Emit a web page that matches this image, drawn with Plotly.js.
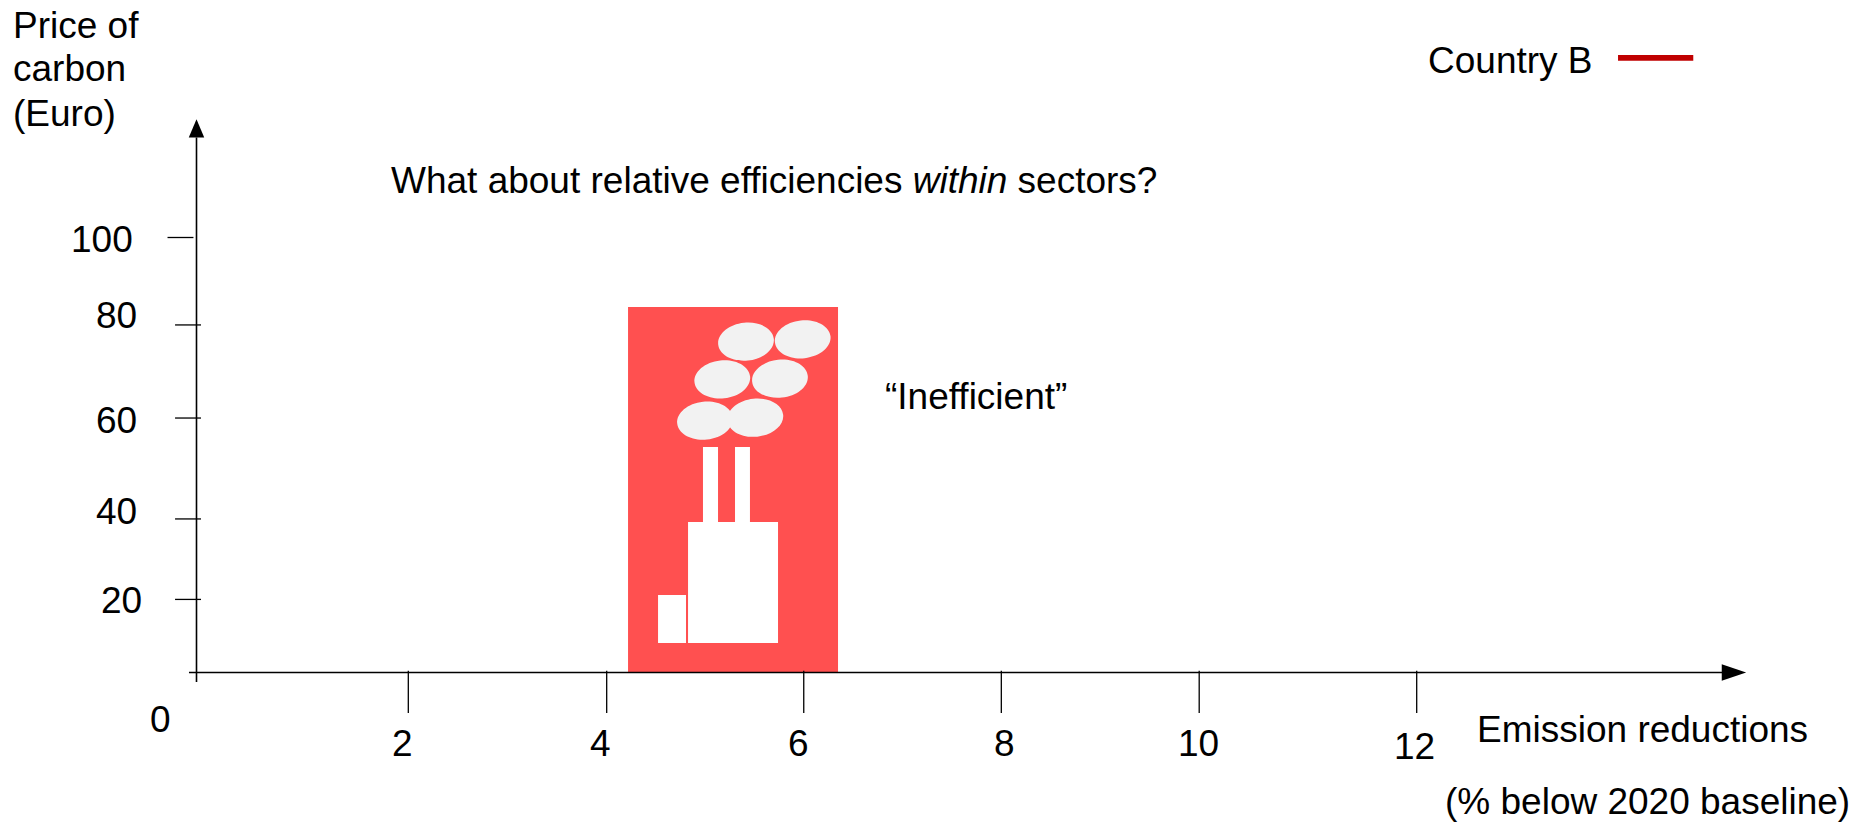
<!DOCTYPE html>
<html>
<head>
<meta charset="utf-8">
<script src="https://cdn.plot.ly/plotly-3.0.1.min.js"></script>
<style>html,body{margin:0;padding:0;background:#fff}#chart{width:1858px;height:822px}</style>
</head>
<body>
<div id="chart"></div>
<script>
// Scales (data units)
const xRange = [-1.9325, 16.3400];
const yRange = [-34.37, 154.60];

// Hand-drawn axis ticks
const xTickLabels = ["2","4","6","8","10","12"];
const xTickValues = [2.083,4.034,5.972,7.915,9.861,12];
const xTickLabelX = [2.03,3.975,5.92,7.945,9.859,11.98];
const xTickLabelY = [-16.4,-16.4,-16.4,-16.4,-16.4,-17.1];
const xTickEnd = -9.3;

const yTickLabels = ["100","80","60","40","20"];
const yTickValues = [100,79.9,58.5,35.3,16.8];
const yTickStart = [-0.285,-0.211,-0.211,-0.211,-0.211];
const yTickEnd = [-0.03,0.044,0.044,0.044,0.044];
const yTickLabelX = [-0.929,-0.782,-0.782,-0.782,-0.742];
const yTickLabelY = [99.5,82.0,57.9,37,16.5];

// Highlighted block
const blockX = [4.244,6.309];
const blockTop = 84.0;

// Factory pictogram: [x0,x1,y0,y1]
const chimney1 = [4.981,5.129,34.6,51.84];
const chimney2 = [5.296,5.443,34.6,51.84];
const factoryMain = [4.834,5.719,6.78,34.6];
const factorySide = [4.539,4.814,6.78,17.82];
const smokeX = [5.404,5.962,5.171,5.738,5.001,5.496];
const smokeY = [76.05,76.6,67.4,67.54,57.89,58.57];
const smokeRx = 0.275, smokeRy = 4.37;

// Legend line
const legendLineX = [13.98,14.72];
const legendLineY = 141.3;

// Axis arrows
const yAxisTop = 123, yAxisBottom = -2.2;
const xAxisLeft = -0.074, xAxisRight = 15.1;
const arrowUpX = [-0.076,0.076,0];
const arrowUpY = [123,123,127.2];
const arrowRightX = [15.0,15.0,15.24];
const arrowRightY = [1.9,-1.9,0];

const FONT = "Liberation Sans, Arial, sans-serif";
const FS = 37;

function segs(list){
  const x=[],y=[];
  list.forEach(s=>{x.push(s[0],s[2],null);y.push(s[1],s[3],null);});
  return {x,y};
}
const axisSegs = segs([[0,yAxisBottom,0,yAxisTop],[xAxisLeft,0,xAxisRight,0]]);
const tickSegs = segs(
  xTickValues.map(v=>[v,0.4,v,xTickEnd]).concat(
  yTickValues.map((v,i)=>[yTickStart[i],v,yTickEnd[i],v]))
);

const traces = [
  {type:"scatter",mode:"lines",x:axisSegs.x,y:axisSegs.y,line:{color:"#000",width:1.6},hoverinfo:"skip",showlegend:false},
  {type:"scatter",mode:"lines",x:tickSegs.x,y:tickSegs.y,line:{color:"#000",width:1.3},hoverinfo:"skip",showlegend:false},
  {type:"scatter",mode:"lines",x:arrowUpX,y:arrowUpY,fill:"toself",fillcolor:"#000",line:{color:"#000",width:0},hoverinfo:"skip",showlegend:false},
  {type:"scatter",mode:"lines",x:arrowRightX,y:arrowRightY,fill:"toself",fillcolor:"#000",line:{color:"#000",width:0},hoverinfo:"skip",showlegend:false},
  {type:"bar",x:[(blockX[0]+blockX[1])/2],width:[blockX[1]-blockX[0]],y:[blockTop],marker:{color:"#FF5050",line:{width:0}},hoverinfo:"skip",showlegend:false},
  {type:"scatter",mode:"lines",x:legendLineX,y:[legendLineY,legendLineY],line:{color:"#C00000",width:5.7},name:"Country B",hoverinfo:"skip",showlegend:false}
];

function rect(r,c){return {type:"rect",xref:"x",yref:"y",x0:r[0],x1:r[1],y0:r[2],y1:r[3],fillcolor:c,line:{width:0},layer:"above"};}

// Slightly tilted smoke puff, built from four Bézier arcs
function puff(cx,cy){
  const k=0.5523, t=6*Math.PI/180, ux=101.68, uy=4.35;
  const rx=smokeRx*ux, ry=smokeRy*uy;
  const pts=[[rx,0],[rx,k*ry],[k*rx,ry],[0,ry],[-k*rx,ry],[-rx,k*ry],[-rx,0],[-rx,-k*ry],[-k*rx,-ry],[0,-ry],[k*rx,-ry],[rx,-k*ry],[rx,0]];
  const P=pts.map(p=>{
    const a=p[0]*Math.cos(t)-p[1]*Math.sin(t), b=p[0]*Math.sin(t)+p[1]*Math.cos(t);
    return (cx+a/ux).toFixed(4)+","+(cy+b/uy).toFixed(3);
  });
  let d="M"+P[0];
  for(let i=1;i<P.length;i+=3) d+=" C"+P[i]+" "+P[i+1]+" "+P[i+2];
  return {type:"path",xref:"x",yref:"y",path:d+" Z",fillcolor:"#F2F2F2",line:{width:0},layer:"above"};
}

const shapes = [
  rect(chimney1,"#fff"),rect(chimney2,"#fff"),rect(factoryMain,"#fff"),rect(factorySide,"#fff")
].concat(smokeX.map((x,i)=>puff(x,smokeY[i])));

function label(text,x,y,anchor){
  return {text:text,x:x,y:y,xref:"x",yref:"y",showarrow:false,xanchor:anchor||"center",yanchor:"middle",
    font:{family:FONT,size:FS,color:"#000"},borderpad:0,borderwidth:0};
}
const annotations = [
  label("Price of",-1.805,148.85,"left"),
  label("carbon",-1.805,138.74,"left"),
  label("(Euro)",-1.805,128.6,"left"),
  label("What about relative efficiencies <i>within</i> sectors?",1.913,113.1,"left"),
  label("“Inefficient”",6.771,63.45,"left"),
  label("Country B",12.11,140.7,"left"),
  label("0",-0.359,-10.7),
  label("Emission reductions",12.59,-13.15,"left"),
  label("(% below 2020 baseline)",12.275,-29.7,"left")
].concat(
  xTickLabels.map((t,i)=>label(t,xTickLabelX[i],xTickLabelY[i])),
  yTickLabels.map((t,i)=>label(t,yTickLabelX[i],yTickLabelY[i]))
);

const layout = {
  width:1858,height:822,
  margin:{l:0,r:0,t:0,b:0,pad:0},
  paper_bgcolor:"#fff",plot_bgcolor:"#fff",
  showlegend:false,hovermode:false,
  barmode:"overlay",
  xaxis:{range:xRange,visible:false,fixedrange:true},
  yaxis:{range:yRange,visible:false,fixedrange:true},
  shapes:shapes,annotations:annotations
};
Plotly.newPlot("chart",traces,layout,{displayModeBar:false,staticPlot:true});
</script>
</body>
</html>
